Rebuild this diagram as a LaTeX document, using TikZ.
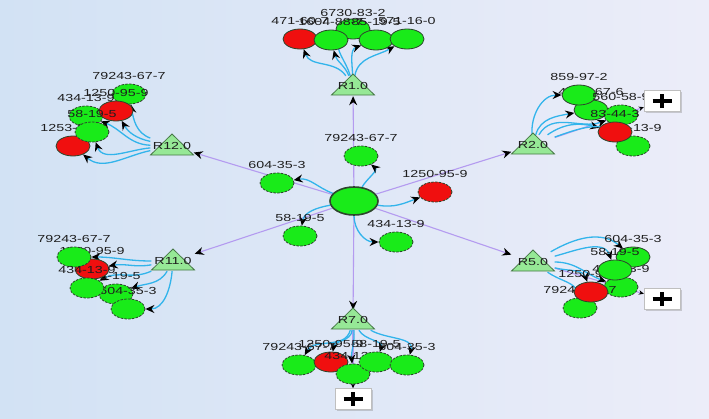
\documentclass[tikz,border=0pt]{standalone}
\usepackage{fontspec}
\setmainfont{Liberation Sans}[FakeStretch=1.4]
\usetikzlibrary{arrows.meta,shadows,shapes.geometric}
\definecolor{bgl}{RGB}{210,226,244}
\definecolor{bgr}{RGB}{236,237,249}
\definecolor{purp}{RGB}{180,155,240}
\definecolor{cyanE}{RGB}{50,180,235}
\definecolor{gfill}{RGB}{25,235,25}
\definecolor{rfill}{RGB}{240,15,15}
\definecolor{nline}{RGB}{45,70,45}
\definecolor{tfill}{RGB}{150,232,150}
\definecolor{tline}{RGB}{70,120,70}
\definecolor{txt}{RGB}{30,30,30}
\pgfdeclarelayer{bg}
\pgfdeclarelayer{edges}
\pgfsetlayers{bg,edges,main}
\newcommand\cnd[5]{\node[#1] (#2) at (#3,-#4) {};\node[lbl] (#2l) at (#3,-#4+18) {#5};}
\begin{document}
\begin{tikzpicture}[x=1pt,y=1pt,font=\fontsize{10.2}{12}\selectfont,
  cmp/.style={ellipse, draw=nline, line width=0.8pt, minimum width=34pt, minimum height=20pt, inner sep=0pt},
  dsh/.style={dash pattern=on 2.5pt off 1.3pt},
  gs/.style={cmp, fill=gfill},
  gd/.style={cmp, fill=gfill, dsh},
  rs/.style={cmp, fill=rfill},
  rd/.style={cmp, fill=rfill, dsh},
  lbl/.style={inner sep=0pt, text=txt},
  rl/.style={minimum width=43pt, minimum height=20pt, inner sep=0pt, text=txt},
  tri/.style={fill=tfill, draw=tline, line width=0.8pt},
  pe/.style={draw=purp, line width=1.1pt, -{Stealth[length=9pt,width=8pt,inset=3pt,color=black]}},
  pes/.style={draw=purp, line width=1.1pt, -{Stealth[length=5pt,width=4.5pt,color=black]}},
  ce/.style={draw=cyanE, line width=1.3pt, -{Stealth[length=9pt,width=8pt,inset=3pt,color=black]}},
  plusbox/.style={draw=gray!50, fill=white, minimum width=36pt, minimum height=21pt, inner sep=0pt,
     drop shadow={shadow xshift=1.5pt, shadow yshift=-1.5pt, opacity=0.35}},
  pluscross/.style={line width=4pt, black}
]
\useasboundingbox (0,0) rectangle (709,-418);
\begin{pgfonlayer}{bg}
\shade[left color=bgl, right color=bgr] (0,0) rectangle (709,-418);
\end{pgfonlayer}

% reaction triangles
\foreach \n/\x/\y/\t in {r1/353/86/R1.0, r12/172/146/R12.0, r2/533/145/R2.0, r11/173/261/R11.0, r5/533/262/R5.0, r7/353/320/R7.0} {
  \filldraw[tri] (\x-21.5,-\y-9) -- (\x,-\y+12) -- (\x+21.5,-\y-9) -- cycle;
  \node[rl] (\n) at (\x,-\y) {\t};
}

% centre
\node[gs, minimum width=48pt, minimum height=28pt, line width=1.6pt] (c) at (354,-201) {};
\cnd{gd}{n1}{361}{156}{79243-67-7}
\cnd{gd}{n2}{277}{183}{604-35-3}
\cnd{rd}{n3}{435}{192}{1250-95-9}
\cnd{gd}{n4}{300}{236}{58-19-5}
\cnd{gd}{n5}{396}{242}{434-13-9}

% top cluster
\node[gs] (t3) at (353,-29) {};
\node[lbl] (t3l) at (353,-13) {6730-83-2};
\cnd{rs}{t1}{300}{39}{471-60-7}
\cnd{gs}{t2}{331}{40}{1604-88-7}
\cnd{gs}{t4}{376}{40}{85-19-5}
\cnd{gs}{t5}{407}{39}{571-16-0}

% R12 cluster
\cnd{gd}{a1}{129}{94}{79243-67-7}
\cnd{gd}{a3}{86}{116}{434-13-9}
\cnd{rs}{a2}{116}{111}{1250-95-9}
\cnd{rs}{a5}{73}{146}{1253-28-7}
\cnd{gd}{a4}{92}{132}{58-19-5}

% R2 cluster
\cnd{gs}{b2}{591}{110}{4376-67-6}
\cnd{gs}{b1}{579}{95}{859-97-2}
\cnd{gd}{b3}{621}{115}{560-58-9}
\cnd{gd}{b5}{633}{146}{434-13-9}
\cnd{rs}{b4}{615}{132}{83-44-3}
\node[plusbox] (p1) at (662,-101) {};
\draw[pluscross] ([xshift=-9.5pt]p1.center) -- ([xshift=9.5pt]p1.center) ([yshift=-7pt]p1.center) -- ([yshift=7pt]p1.center);

% R11 cluster
\cnd{gd}{d4}{116}{294}{58-19-5}
\cnd{gd}{d5}{128}{309}{604-35-3}
\cnd{rs}{d2}{92}{269}{1250-95-9}
\cnd{gd}{d1}{74}{257}{79243-67-7}
\cnd{gd}{d3}{87}{288}{434-13-9}

% R5 cluster
\cnd{gd}{e3}{621}{287}{434-13-9}
\cnd{gd}{e5}{580}{308}{79243-67-7}
\cnd{rs}{e4}{591}{292}{1250-95-9}
\cnd{gs}{e1}{633}{257}{604-35-3}
\cnd{gs}{e2}{615}{270}{58-19-5}
\node[plusbox] (p2) at (662,-299) {};
\draw[pluscross] ([xshift=-9.5pt]p2.center) -- ([xshift=9.5pt]p2.center) ([yshift=-7pt]p2.center) -- ([yshift=7pt]p2.center);

% R7 cluster
\cnd{gd}{f1}{299}{365}{79243-67-7}
\cnd{rs}{f2}{331}{362}{1250-95-9}
\cnd{gd}{f3}{353}{374}{434-13-9}
\cnd{gd}{f4}{376}{362}{58-19-5}
\cnd{gd}{f5}{407}{365}{604-35-3}
\node[plusbox] (p3) at (353,-399) {};
\draw[pluscross] ([xshift=-9.5pt]p3.center) -- ([xshift=9.5pt]p3.center) ([yshift=-7pt]p3.center) -- ([yshift=7pt]p3.center);

\begin{pgfonlayer}{edges}
% purple reaction links
\draw[pe] (c) -- (r1);
\draw[pe] (c) -- (r12);
\draw[pe] (c) -- (r2);
\draw[pe] (c) -- (r11);
\draw[pe] (c) -- (r5);
\draw[pe] (c) -- (r7);
\draw[pes] (r2) -- (p1);
\draw[pes] (r5) -- (p2);
\draw[pes] (r7) -- (p3);
% centre edges
\draw[ce] (c) to[out=60,in=-40] (n1);
\draw[ce] (c) to[out=160,in=10] (n2);
\draw[ce] (c) to[out=-10,in=200] (n3);
\draw[ce] (c) to[out=190,in=80] (n4);
\draw[ce] (c) to[out=-90,in=180] (n5);
% R1
\draw[ce] (r1) to[out=125,in=-70] (t1);
\draw[ce] (r1) to[out=112,in=-75] (t2);
\draw[ce] (r1) to[out=105,in=225] (t3);
\draw[ce] (r1) to[out=92,in=200] (t4);
\draw[ce] (r1) to[out=80,in=210] (t5);
% R12
\draw[ce] (r12) to[out=160,in=-80] (a1);
\draw[ce] (r12) to[out=168,in=-60] (a2);
\draw[ce] (r12) to[out=178,in=-20] (a3);
\draw[ce] (r12) to[out=185,in=-70] (a4);
\draw[ce] (r12) to[out=192,in=-40] (a5);
% R2
\draw[ce] (r2) to[out=95,in=180] (b1);
\draw[ce] (r2) to[out=75,in=190] (b2);
\draw[ce] (r2) to[out=60,in=200] (b3);
\draw[ce] (r2) to[out=35,in=165] (b4);
\draw[ce] (r2) to[out=20,in=140] (b5);
% R11
\draw[ce] (r11) to[out=180,in=0] (d1);
\draw[ce] (r11) to[out=190,in=10] (d2);
\draw[ce] (r11) to[out=205,in=30] (d3);
\draw[ce] (r11) to[out=240,in=20] (d4);
\draw[ce] (r11) to[out=265,in=0] (d5);
% R5
\draw[ce] (r5) to[out=30,in=140] (e1);
\draw[ce] (r5) to[out=15,in=110] (e2);
\draw[ce] (r5) to[out=0,in=160] (e3);
\draw[ce] (r5) to[out=-15,in=110] (e4);
\draw[ce] (r5) to[out=-35,in=100] (e5);
% R7
\draw[ce] (r7) to[out=-105,in=60] (f1);
\draw[ce] (r7) to[out=-95,in=80] (f2);
\draw[ce] (r7) to[out=-85,in=95] (f3);
\draw[ce] (r7) to[out=-60,in=70] (f4);
\draw[ce] (r7) to[out=-30,in=75] (f5);
\end{pgfonlayer}
\end{tikzpicture}
\end{document}
